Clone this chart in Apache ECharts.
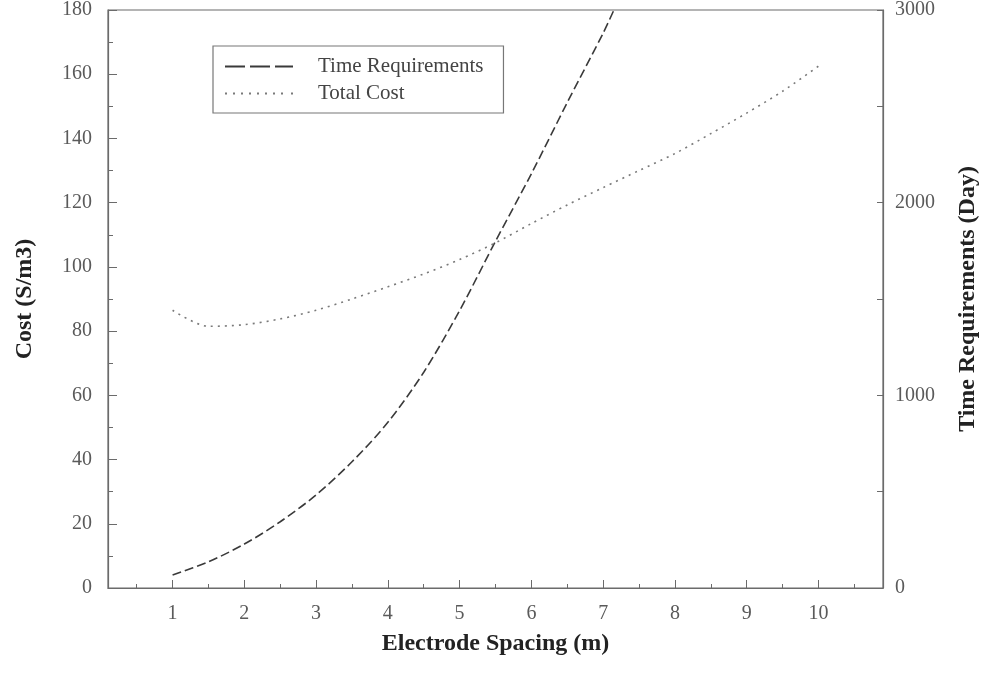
<!DOCTYPE html>
<html>
<head>
<meta charset="utf-8">
<script src="https://cdn.jsdelivr.net/npm/echarts@6/dist/echarts.min.js"></script>
<style>
  html, body { margin: 0; padding: 0; background: #fff; overflow: hidden; }
  #chart { width: 982px; height: 687px; }
</style>
</head>
<body>
<div id="chart"></div>
<script>
// Electrode spacing (m) for each series
const spacingTime = [1, 1.5, 2, 2.5, 3, 3.5, 4, 4.5, 5, 5.5, 6, 6.5, 7, 7.15];
const timeDays = [67, 136, 228, 344, 483, 655, 860, 1120, 1440, 1800, 2150, 2520, 2880, 3000];

const spacingCost = [1, 1.5, 2, 2.5, 3, 3.5, 4, 4.5, 5, 5.5, 6, 6.5, 7, 7.5, 8, 8.5, 9, 9.5, 10];
const totalCost = [86.5, 81.5, 82, 83.8, 86.5, 90, 93.8, 97.8, 102.3, 107.5, 113.5, 119.3, 124.7, 130, 135.3, 141.5, 147.9, 154.7, 162.5];

const xLabelValues = [1, 2, 3, 4, 5, 6, 7, 8, 9, 10];
const xMinorValues = [0.5, 1.5, 2.5, 3.5, 4.5, 5.5, 6.5, 7.5, 8.5, 9.5, 10.5];
const rightLabelValues = [0, 1000, 2000, 3000];

const FONT = 'Liberation Serif';
const AXIS_COLOR = '#6b6b6b';
const LABEL_COLOR = '#5a5a5a';
const TITLE_STYLE = { fontFamily: FONT, fontSize: 24, fontWeight: 'bold', color: '#222' };

// legend samples: three dashes / a row of dots
const DASH_ICON = 'path://M0,0h20v2h-20z M25,0h20v2h-20z M50,0h18v2h-18z';
const DOT_ICON = 'path://M0,0h2v2h-2z M8,0h2v2h-2z M16,0h2v2h-2z M24,0h2v2h-2z M32,0h2v2h-2z M40,0h2v2h-2z M48,0h2v2h-2z M56,0h2v2h-2z M66,0h2v2h-2z';

const pair = (xs, ys) => xs.map((x, i) => [x, ys[i]]);

const chart = echarts.init(document.getElementById('chart'), null, { renderer: 'canvas', width: 982, height: 687 });

chart.setOption({
  backgroundColor: '#fff',
  animation: false,
  grid: {
    left: 108, right: 99, top: 10, bottom: 99,
    outerBoundsMode: 'none',
    show: true, borderColor: AXIS_COLOR, borderWidth: 1.2, backgroundColor: 'transparent'
  },
  legend: {
    orient: 'vertical',
    left: 213, top: 46,
    padding: [10, 20, 9, 12],
    itemWidth: 68, itemHeight: 2, itemGap: 6,
    borderColor: '#777', borderWidth: 1.2,
    textStyle: { fontFamily: FONT, fontSize: 21, color: '#444', padding: [0, 0, 0, 20] },
    data: [
      { name: 'Time Requirements', icon: DASH_ICON },
      { name: 'Total Cost', icon: DOT_ICON }
    ]
  },
  xAxis: [
    {
      type: 'value', min: 0.1, max: 10.9,
      name: 'Electrode Spacing (m)', nameLocation: 'middle', nameGap: 44,
      nameTextStyle: TITLE_STYLE,
      axisLine: { show: true, lineStyle: { color: AXIS_COLOR, width: 1.2 } },
      axisTick: { show: true, inside: true, length: 8, customValues: xLabelValues, lineStyle: { color: AXIS_COLOR } },
      axisLabel: { customValues: xLabelValues, margin: 16, fontFamily: FONT, fontSize: 20, color: LABEL_COLOR },
      splitLine: { show: false }
    },
    {
      type: 'value', min: 0.1, max: 10.9, position: 'bottom',
      axisLine: { show: false },
      axisTick: { show: true, inside: true, length: 4, customValues: xMinorValues, lineStyle: { color: AXIS_COLOR } },
      axisLabel: { show: false },
      splitLine: { show: false }
    }
  ],
  yAxis: [
    {
      type: 'value', min: 0, max: 180, interval: 20, position: 'left',
      name: 'Cost (S/m3)', nameLocation: 'middle', nameGap: 71, nameRotate: 90,
      nameTextStyle: TITLE_STYLE,
      axisLine: { show: true, lineStyle: { color: AXIS_COLOR, width: 1.2 } },
      axisTick: { show: true, inside: true, length: 9, lineStyle: { color: AXIS_COLOR } },
      minorTick: { show: true, splitNumber: 2, length: 5, lineStyle: { color: AXIS_COLOR } },
      axisLabel: { margin: 16, fontFamily: FONT, fontSize: 20, color: LABEL_COLOR },
      splitLine: { show: false }
    },
    {
      type: 'value', min: 0, max: 3000, interval: 500, position: 'right',
      name: 'Time Requirements (Day)', nameLocation: 'middle', nameGap: 73, nameRotate: 90,
      nameTextStyle: TITLE_STYLE,
      axisLine: { show: true, lineStyle: { color: AXIS_COLOR, width: 1.2 } },
      axisTick: { show: true, inside: true, length: 6, lineStyle: { color: AXIS_COLOR } },
      axisLabel: {
        customValues: rightLabelValues, margin: 12,
        fontFamily: FONT, fontSize: 20, color: LABEL_COLOR,
        formatter: (v) => String(v)
      },
      splitLine: { show: false }
    }
  ],
  series: [
    {
      name: 'Time Requirements',
      type: 'line', xAxisIndex: 0, yAxisIndex: 1,
      data: pair(spacingTime, timeDays),
      smooth: 0.3, symbol: 'none', clip: true,
      lineStyle: { color: '#3a3a3a', width: 1.6, type: [9, 4] },
      itemStyle: { color: '#3a3a3a' }
    },
    {
      name: 'Total Cost',
      type: 'line', xAxisIndex: 0, yAxisIndex: 0,
      data: pair(spacingCost, totalCost),
      smooth: 0.3, symbol: 'none',
      lineStyle: { color: '#7a7a7a', width: 1.6, type: [2, 5] },
      itemStyle: { color: '#7a7a7a' }
    }
  ]
});
</script>
</body>
</html>
